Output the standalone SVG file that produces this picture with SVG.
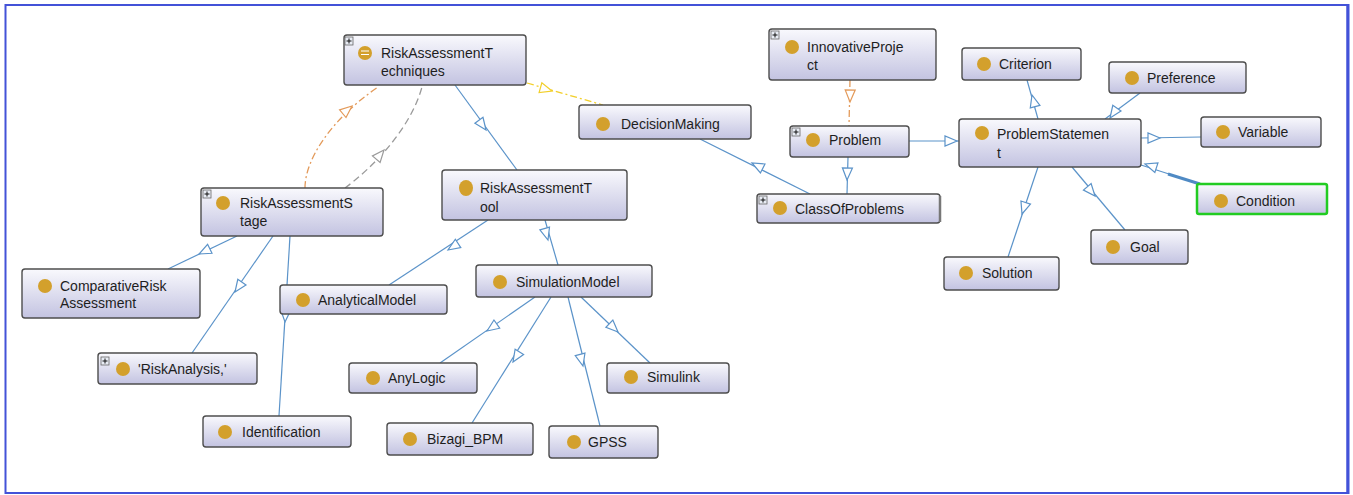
<svg xmlns="http://www.w3.org/2000/svg" width="1353" height="495" viewBox="0 0 1353 495">
<style>
.bg{fill:#ffffff}
.frame{fill:none;stroke:#4352d8;stroke-width:2}
.node rect.box{fill:url(#g);stroke:#4d4d4d;stroke-width:1.4}
.node text,text.t{font-family:"Liberation Sans",Arial,sans-serif;font-size:14px;fill:#1e1e1e}
.ic{fill:#d3a02c}
.pl rect{fill:#e8ecf4;stroke:#666;stroke-width:0.8}
.pl path{stroke:#111;stroke-width:1}
.e{fill:none;stroke:#5b93c9;stroke-width:1.2}
.ah{fill:#ffffff;stroke:#5b93c9;stroke-width:1.2}
.eo{fill:none;stroke:#e39a5a;stroke-width:1.3;stroke-dasharray:7 3 2 3}
.aho{fill:#ffffff;stroke:#e39a5a;stroke-width:1.2}
.eg{fill:none;stroke:#9a9a9a;stroke-width:1.3;stroke-dasharray:7 4}
.ahg{fill:#ffffff;stroke:#9a9a9a;stroke-width:1.2}
.ey{fill:none;stroke:#f2cf2a;stroke-width:1.3;stroke-dasharray:7 3 2 3}
.ahy{fill:#ffffff;stroke:#f2cf2a;stroke-width:1.2}
</style>
<defs>
<linearGradient id="g" x1="0" y1="0" x2="0" y2="1">
<stop offset="0" stop-color="#f9f9fd"/>
<stop offset="1" stop-color="#c3c3e1"/>
</linearGradient>
<path id="ar" d="M0,0 L-12,-5 L-12,5 Z"/>
</defs>
<rect class="bg" x="0" y="0" width="1353" height="495"/>
<rect class="frame" x="5.5" y="5" width="1342" height="488"/>
<line x1="1348" y1="4" x2="1348" y2="494" stroke="#4352d8" stroke-width="3"/>

<g id="connectors">
<line class="e" x1="455" y1="85" x2="517" y2="170"/>
<use href="#ar" class="ah" transform="translate(486,130) rotate(54)"/>
<line class="ey" x1="527" y1="83" x2="603" y2="105"/>
<use href="#ar" class="ahy" transform="translate(552,91) rotate(16)"/>
<path class="eo" d="M305,188 C305,160 330,120 378,87"/>
<use href="#ar" class="aho" transform="translate(352,106) rotate(-40)"/>
<path class="eg" d="M345,188 C372,168 410,130 422,87"/>
<use href="#ar" class="ahg" transform="translate(384,150) rotate(-50)"/>
<line class="e" x1="237" y1="236" x2="168" y2="269"/>
<use href="#ar" class="ah" transform="translate(199,254) rotate(154)"/>
<line class="e" x1="273" y1="236" x2="192" y2="353"/>
<use href="#ar" class="ah" transform="translate(235,292) rotate(125)"/>
<line class="e" x1="290" y1="236" x2="279" y2="416"/>
<use href="#ar" class="ah" transform="translate(285,322) rotate(93)"/>
<line class="e" x1="488" y1="220" x2="389" y2="285"/>
<use href="#ar" class="ah" transform="translate(448,250) rotate(147)"/>
<line class="e" x1="545" y1="220" x2="558" y2="265"/>
<use href="#ar" class="ah" transform="translate(548,240) rotate(74)"/>
<line class="e" x1="535" y1="297" x2="440" y2="363"/>
<use href="#ar" class="ah" transform="translate(487,331) rotate(145)"/>
<line class="e" x1="551" y1="297" x2="472" y2="423"/>
<use href="#ar" class="ah" transform="translate(513,362) rotate(122)"/>
<line class="e" x1="568" y1="297" x2="600" y2="426"/>
<use href="#ar" class="ah" transform="translate(583,366) rotate(76)"/>
<line class="e" x1="581" y1="297" x2="650" y2="363"/>
<use href="#ar" class="ah" transform="translate(618,332) rotate(44)"/>
<line class="e" x1="700" y1="139" x2="810" y2="194"/>
<use href="#ar" class="ah" transform="translate(752,163) rotate(-153)"/>
<line class="eo" x1="850" y1="80" x2="849" y2="126"/>
<use href="#ar" class="aho" transform="translate(850,102) rotate(91)"/>
<line class="e" x1="848" y1="157" x2="847" y2="194"/>
<use href="#ar" class="ah" transform="translate(847,180) rotate(92)"/>
<line class="e" x1="909" y1="141" x2="959" y2="141"/>
<use href="#ar" class="ah" transform="translate(957,141) rotate(0)"/>
<line class="e" x1="1038" y1="119" x2="1027" y2="80"/>
<use href="#ar" class="ah" transform="translate(1032,95) rotate(-105)"/>
<line class="e" x1="1140" y1="93" x2="1105" y2="119"/>
<use href="#ar" class="ah" transform="translate(1110,118) rotate(125)"/>
<line class="e" x1="1141" y1="138" x2="1201" y2="137"/>
<use href="#ar" class="ah" transform="translate(1160,138) rotate(0)"/>
<line class="e" x1="1200" y1="184" x2="1141" y2="165"/>
<line x1="1200" y1="184" x2="1168" y2="174" stroke="#4f8ac4" stroke-width="3"/>
<use href="#ar" class="ah" transform="translate(1145,164) rotate(-162)"/>
<line class="e" x1="1072" y1="167" x2="1125" y2="230"/>
<use href="#ar" class="ah" transform="translate(1095,196) rotate(50)"/>
<line class="e" x1="1038" y1="167" x2="1008" y2="257"/>
<use href="#ar" class="ah" transform="translate(1022,214) rotate(108)"/>
</g>

<g id="n-techniques" class="node">
<rect class="box" x="344" y="35" width="182" height="50" rx="3"/>
<g class="pl"><rect x="345" y="37" width="8" height="8"/><path d="M346.5,41 H351.5 M349,38.5 V43.5"/></g>
<circle class="ic" cx="365" cy="53" r="7"/>
<path d="M361,51 H369 M361,54.5 H369" stroke="#ffffff" stroke-width="1.2"/>
<text x="381" y="58">RiskAssessmentT</text>
<text x="381" y="76">echniques</text>
</g>

<g id="n-decisionmaking" class="node">
<rect class="box" x="579" y="105" width="172" height="34" rx="3"/>
<circle class="ic" cx="603" cy="124" r="7"/>
<text x="621" y="129">DecisionMaking</text>
</g>

<g id="n-innovativeproject" class="node">
<rect class="box" x="769" y="29" width="167" height="51" rx="3"/>
<g class="pl"><rect x="771" y="31" width="8" height="8"/><path d="M772.5,35 H777.5 M775,32.5 V37.5"/></g>
<circle class="ic" cx="792" cy="47" r="7"/>
<text x="807" y="52">InnovativeProje</text>
<text x="807" y="70">ct</text>
</g>

<g id="n-problem" class="node">
<rect class="box" x="790" y="126" width="119" height="31" rx="3"/>
<g class="pl"><rect x="792" y="128" width="8" height="8"/><path d="M793.5,132 H798.5 M796,129.5 V134.5"/></g>
<circle class="ic" cx="813" cy="140" r="7"/>
<text x="829" y="145">Problem</text>
</g>

<g id="n-classofproblems" class="node">
<rect class="box" x="757" y="194" width="183" height="29" rx="3"/>
<line x1="940" y1="196" x2="940" y2="222" stroke="#777" stroke-width="2.5"/>
<g class="pl"><rect x="759" y="196" width="8" height="8"/><path d="M760.5,200 H765.5 M763,197.5 V202.5"/></g>
<circle class="ic" cx="780" cy="208" r="7"/>
<text x="795" y="214">ClassOfProblems</text>
</g>

<g id="n-problemstatement" class="node">
<rect class="box" x="959" y="119" width="182" height="48" rx="3"/>
<circle class="ic" cx="982" cy="133" r="7"/>
<text x="997" y="139">ProblemStatemen</text>
<text x="997" y="158">t</text>
</g>

<g id="n-criterion" class="node">
<rect class="box" x="962" y="48" width="119" height="32" rx="3"/>
<circle class="ic" cx="984" cy="64" r="7"/>
<text x="999" y="69">Criterion</text>
</g>

<g id="n-preference" class="node">
<rect class="box" x="1109" y="62" width="137" height="31" rx="3"/>
<circle class="ic" cx="1132" cy="78" r="7"/>
<text x="1147" y="83">Preference</text>
</g>

<g id="n-variable" class="node">
<rect class="box" x="1201" y="117" width="120" height="30" rx="3"/>
<circle class="ic" cx="1223" cy="132" r="7"/>
<text x="1238" y="137">Variable</text>
</g>

<g id="n-condition" class="node">
<rect class="box" x="1197" y="184" width="130" height="30" rx="2" style="stroke:#22cc22;stroke-width:2.5"/>
<circle class="ic" cx="1221" cy="201" r="7"/>
<text x="1236" y="206">Condition</text>
</g>

<g id="n-goal" class="node">
<rect class="box" x="1091" y="230" width="97" height="34" rx="3"/>
<circle class="ic" cx="1113" cy="247" r="7"/>
<text x="1130" y="252">Goal</text>
</g>

<g id="n-solution" class="node">
<rect class="box" x="944" y="257" width="115" height="33" rx="3"/>
<circle class="ic" cx="966" cy="273" r="7"/>
<text x="982" y="278">Solution</text>
</g>

<g id="n-stage" class="node">
<rect class="box" x="201" y="188" width="182" height="48" rx="3"/>
<g class="pl"><rect x="203" y="190" width="8" height="8"/><path d="M204.5,194 H209.5 M207,191.5 V196.5"/></g>
<circle class="ic" cx="223" cy="203" r="7"/>
<text x="240" y="208">RiskAssessmentS</text>
<text x="240" y="226">tage</text>
</g>

<g id="n-tool" class="node">
<rect class="box" x="442" y="170" width="185" height="50" rx="3"/>
<ellipse class="ic" cx="466" cy="188" rx="7" ry="8"/>
<text x="480" y="193">RiskAssessmentT</text>
<text x="480" y="212">ool</text>
</g>

<g id="n-analyticalmodel" class="node">
<rect class="box" x="280" y="285" width="167" height="29" rx="3"/>
<circle class="ic" cx="303" cy="300" r="7"/>
<text x="318" y="305">AnalyticalModel</text>
</g>

<g id="n-simulationmodel" class="node">
<rect class="box" x="476" y="265" width="176" height="32" rx="3"/>
<circle class="ic" cx="500" cy="282" r="7"/>
<text x="516" y="287">SimulationModel</text>
</g>

<g id="n-comparative" class="node">
<rect class="box" x="22" y="269" width="178" height="49" rx="3"/>
<circle class="ic" cx="45" cy="286" r="7"/>
<text x="60" y="291">ComparativeRisk</text>
<text x="60" y="308">Assessment</text>
</g>

<g id="n-riskanalysis" class="node">
<rect class="box" x="98" y="353" width="159" height="31" rx="3"/>
<g class="pl"><rect x="101" y="357" width="8" height="8"/><path d="M102.5,361 H107.5 M105,358.5 V363.5"/></g>
<circle class="ic" cx="123" cy="369" r="7"/>
<text x="138" y="374">'RiskAnalysis,'</text>
</g>

<g id="n-identification" class="node">
<rect class="box" x="203" y="416" width="148" height="31" rx="3"/>
<circle class="ic" cx="225" cy="432" r="7"/>
<text x="242" y="437">Identification</text>
</g>

<g id="n-anylogic" class="node">
<rect class="box" x="349" y="363" width="128" height="30" rx="3"/>
<circle class="ic" cx="373" cy="378" r="7"/>
<text x="388" y="383">AnyLogic</text>
</g>

<g id="n-simulink" class="node">
<rect class="box" x="607" y="363" width="122" height="30" rx="3"/>
<circle class="ic" cx="631" cy="377" r="7"/>
<text x="647" y="382">Simulink</text>
</g>

<g id="n-bizagi" class="node">
<rect class="box" x="387" y="423" width="146" height="32" rx="3"/>
<circle class="ic" cx="410" cy="439" r="7"/>
<text x="427" y="444">Bizagi_BPM</text>
</g>

<g id="n-gpss" class="node">
<rect class="box" x="549" y="426" width="109" height="32" rx="3"/>
<circle class="ic" cx="574" cy="442" r="7"/>
<text x="588" y="447">GPSS</text>
</g>
</svg>
